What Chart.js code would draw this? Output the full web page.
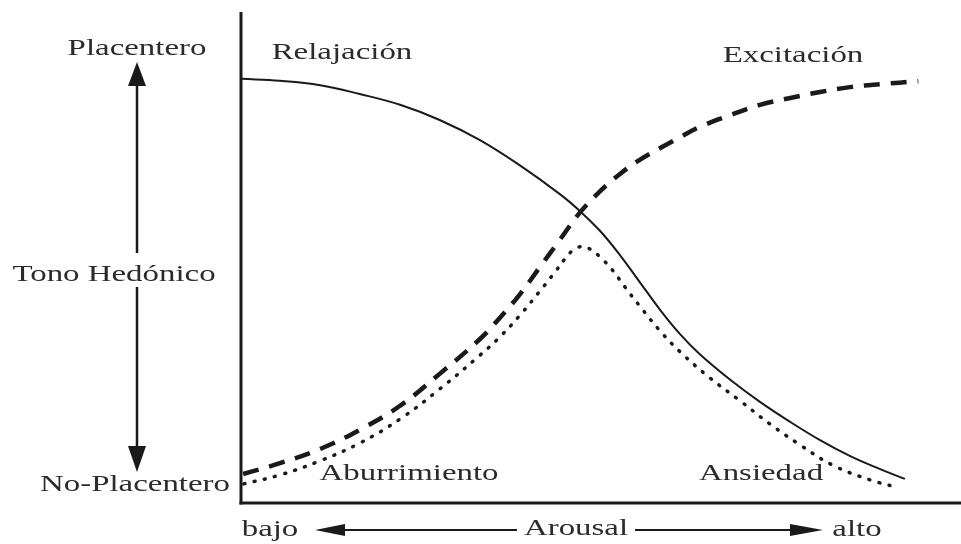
<!DOCTYPE html>
<html>
<head>
<meta charset="utf-8">
<script src="https://cdn.jsdelivr.net/npm/chart.js@4"></script>
<style>
html, body { margin: 0; padding: 0; background: #fff; }
.chart-container { width: 961px; height: 544px; position: relative; }
</style>
</head>
<body>
<div class="chart-container"><canvas id="myChart" width="961" height="544"></canvas></div>
<script>
// arousal (0-100) and hedonic tone (0-100)
const relajacion_arousal = [0.1, 5.5, 11.2, 16.8, 22.5, 28.1, 33.8, 39.4, 45.1, 47.9, 50.8, 53.6, 56.4, 59.3, 62.1, 64.9, 69.2, 73.4, 77.7, 81.9, 86.1, 90.4, 93.9];
const relajacion_tono = [86.4, 86.0, 85.1, 83.3, 81.1, 78.0, 73.9, 68.8, 62.9, 59.5, 55.4, 50.5, 45.0, 39.3, 34.4, 30.3, 25.1, 20.6, 16.5, 12.8, 9.6, 6.9, 4.9];

const excitacion_arousal = [0.3, 5.5, 11.2, 16.8, 22.5, 28.1, 33.8, 36.6, 39.5, 42.3, 45.1, 47.9, 50.8, 53.6, 56.4, 59.3, 62.1, 64.9, 69.2, 73.4, 77.7, 81.9, 86.1, 90.4, 95.8];
const excitacion_tono = [5.9, 8.1, 11.0, 14.9, 19.8, 26.3, 33.4, 37.7, 42.6, 48.1, 53.6, 59.1, 63.5, 67.0, 69.9, 72.3, 74.5, 76.6, 79.0, 81.1, 82.5, 83.7, 84.7, 85.3, 85.9];

const aburrimiento_arousal = [0.4, 5.5, 11.2, 16.8, 22.5, 28.1, 33.8, 36.6, 39.5, 42.3, 44.4, 45.8, 46.8, 47.7, 48.7, 49.6, 50.8, 52.5, 54.3, 56.4, 59.3, 62.1, 66.3, 70.6, 74.8, 79.1, 83.7, 89.0, 92.5];
const aburrimiento_tono = [3.9, 5.7, 8.6, 12.2, 17.1, 23.2, 30.1, 33.8, 38.3, 43.2, 47.0, 49.7, 51.3, 52.1, 52.1, 51.5, 50.1, 47.5, 44.0, 40.1, 35.0, 30.8, 25.5, 20.8, 16.1, 11.8, 7.7, 4.7, 3.3];

const text_color = '#2b2b2b';
const line_color = '#1a1a1a';

function to_points(xs, ys)
{
    return xs.map((x, i) => ({x: x, y: ys[i]}));
}

function draw_text(ctx, text, cx, baseline)
{
    ctx.save();
    ctx.translate(cx, baseline);
    ctx.scale(1.43, 1);
    ctx.textAlign = 'center';
    ctx.textBaseline = 'alphabetic';
    ctx.fillText(text, 0, 0);
    ctx.restore();
}

function draw_head(ctx, tx, ty, bx, by, half)
{
    // tip (tx,ty), base centre (bx,by)
    let dx = tx - bx, dy = ty - by;
    let len = Math.sqrt(dx * dx + dy * dy);
    let nx = -dy / len * half, ny = dx / len * half;
    ctx.beginPath();
    ctx.moveTo(tx, ty);
    ctx.lineTo(bx + nx, by + ny);
    ctx.lineTo(bx - nx, by - ny);
    ctx.closePath();
    ctx.fill();
}

function draw_line(ctx, x1, y1, x2, y2)
{
    ctx.beginPath();
    ctx.moveTo(x1, y1);
    ctx.lineTo(x2, y2);
    ctx.stroke();
}

const decoration_plugin = {
    id: 'decoration',
    afterDraw(chart) {
        const ctx = chart.ctx;
        const area = chart.chartArea;
        ctx.save();

        // axes
        ctx.strokeStyle = line_color;
        ctx.lineWidth = 3;
        draw_line(ctx, area.left, area.top, area.left, area.bottom + 1.5);
        draw_line(ctx, area.left - 1.5, area.bottom, chart.width, area.bottom);

        // hedonic arrow
        ctx.fillStyle = line_color;
        ctx.lineWidth = 2.5;
        draw_line(ctx, 137, 84, 137, 253);
        draw_line(ctx, 137, 287, 137, 448);
        draw_head(ctx, 137, 62, 137, 86, 9);
        draw_head(ctx, 137, 472, 137, 446, 9);

        // arousal arrow
        ctx.lineWidth = 2;
        draw_line(ctx, 343, 530, 517, 530);
        draw_line(ctx, 635, 530, 792, 530);
        draw_head(ctx, 315, 530, 345, 530, 6);
        draw_head(ctx, 823, 530, 790, 530, 6);

        // labels
        ctx.fillStyle = text_color;
        ctx.font = '23px "Liberation Serif", "DejaVu Serif", serif';
        draw_text(ctx, 'Placentero', 137, 55);
        draw_text(ctx, 'Tono Hedónico', 114, 281);
        draw_text(ctx, 'No-Placentero', 135, 491);
        draw_text(ctx, 'Relajación', 342, 59);
        draw_text(ctx, 'Excitación', 793, 62);
        draw_text(ctx, 'Aburrimiento', 409, 480);
        draw_text(ctx, 'Ansiedad', 761, 480);
        draw_text(ctx, 'bajo', 270, 536);
        draw_text(ctx, 'Arousal', 576, 535);
        draw_text(ctx, 'alto', 857, 536);

        ctx.restore();
    }
};

const ctx = document.getElementById('myChart').getContext('2d');

const chart = new Chart(ctx, {
    type: 'line',
    data: {
        datasets: [
            {
                label: 'Relajación',
                data: to_points(relajacion_arousal, relajacion_tono),
                borderColor: line_color,
                borderWidth: 2,
                pointRadius: 0,
                tension: 0.4
            },
            {
                label: 'Excitación',
                data: to_points(excitacion_arousal, excitacion_tono),
                borderColor: line_color,
                borderWidth: 4.5,
                borderDash: [16, 11],
                pointRadius: 0,
                tension: 0.4
            },
            {
                label: 'Aburrimiento / Ansiedad',
                data: to_points(aburrimiento_arousal, aburrimiento_tono),
                borderColor: line_color,
                borderWidth: 3.5,
                borderDash: [1, 9.5],
                borderCapStyle: 'round',
                pointRadius: 0,
                tension: 0.4
            }
        ]
    },
    options: {
        responsive: false,
        animation: false,
        devicePixelRatio: 1,
        layout: { padding: { left: 241, right: 13, top: 12, bottom: 41 } },
        plugins: {
            legend: { display: false },
            tooltip: { enabled: false }
        },
        scales: {
            x: { type: 'linear', min: 0, max: 100, display: false },
            y: { type: 'linear', min: 0, max: 100, display: false }
        }
    },
    plugins: [decoration_plugin]
});
</script>
</body>
</html>
